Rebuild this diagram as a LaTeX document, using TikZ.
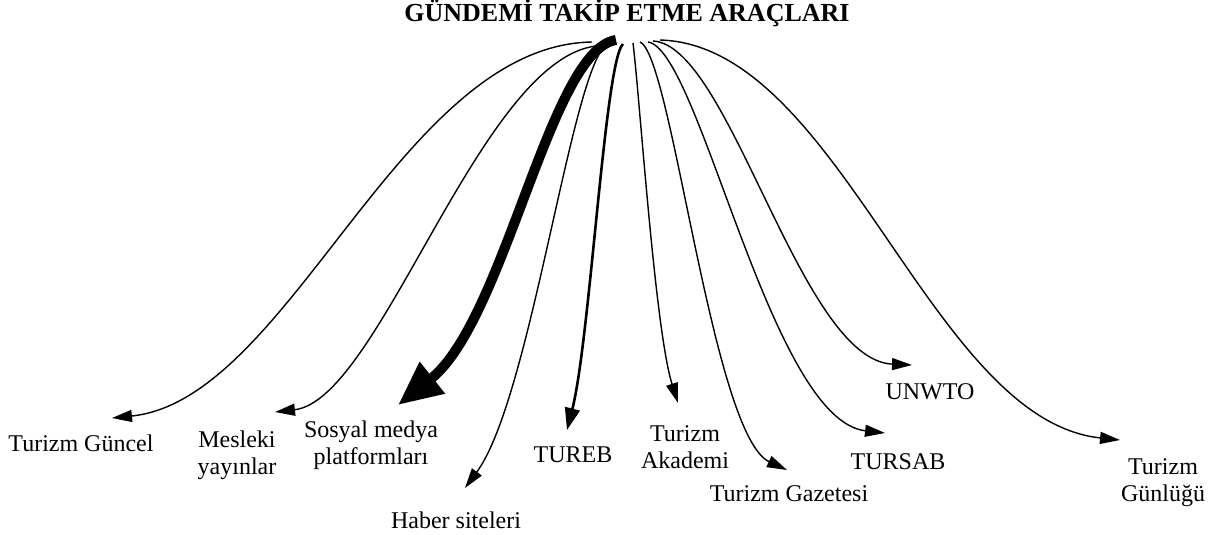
\documentclass[tikz,border=0pt]{standalone}
\usepackage{fontspec}
\setmainfont{Liberation Serif}
\usepackage{xcolor}
\usetikzlibrary{calc,arrows.meta}
\definecolor{gtink}{RGB}{0,0,0}

\begin{document}
\begin{tikzpicture}[x=0.5pt,y=-0.5pt,
    lbl/.style={text=gtink, font=\fontsize{12}{13.5}\selectfont, align=center, inner sep=0pt},
    edge/.style={gtink, -{Triangle[length=10pt,width=6pt]}, line width=0.7pt},
    boldedge/.style={gtink, -{Triangle[length=11pt,width=7.5pt]}, line width=1.3pt},
    heavyedge/.style={gtink, -{Triangle[length=22pt,width=19pt]}, line width=5pt}]
    \useasboundingbox (0,0) rectangle (1216,535);

    \node[text=gtink, font=\bfseries\fontsize{13}{14}\selectfont, inner sep=0pt] (title) at (627,13) {GÜNDEMİ TAKİP ETME ARAÇLARI};
    \coordinate (hub) at (627,42);

    \node[lbl] (guncel) at (81,443) {Turizm Güncel};
    \node[lbl] (mesleki) at (237,455) {Mesleki\\yayınlar};
    \node[lbl] (sosyal) at (371,445) {Sosyal medya\\platformları};
    \node[lbl] (haber) at (456,520) {Haber siteleri};
    \node[lbl] (tureb) at (573,455) {TUREB};
    \node[lbl] (akademi) at (685,447) {Turizm\\Akademi};
    \node[lbl] (gazetesi) at (789,494) {Turizm Gazetesi};
    \node[lbl] (tursab) at (898,462) {TURSAB};
    \node[lbl] (unwto) at (930,392) {UNWTO};
    \node[lbl] (gunlugu) at (1163,483) {Turizm\\Günlüğü};

    % left fan
    \draw[edge] ($(hub)+(-35,0)$) .. controls (400,45) and (290,400) .. ($(guncel)+(31,-25)$);
    \draw[edge] ($(hub)+(-31,4)$) .. controls (480,60) and (380,400) .. ($(mesleki)+(38,-43)$);
    \draw[heavyedge] ($(hub)+(-11,-2)$) .. controls (550,50) and (505,320) .. ($(sosyal)+(27,-40)$);
    \draw[edge] ($(hub)+(-22,4)$) .. controls (570,80) and (530,400) .. ($(haber)+(9,-32)$);
    \draw[boldedge] ($(hub)+(-4,2)$) .. controls (605,60) and (590,340) .. ($(tureb)+(-6,-25)$);

    % right fan
    \draw[edge] ($(hub)+(6,1)$) .. controls (640,100) and (655,330) .. ($(akademi)+(-7,-44)$);
    \draw[edge] ($(hub)+(13,0)$) .. controls (672,55) and (712,435) .. ($(gazetesi)+(-2,-24)$);
    \draw[edge] ($(hub)+(21,0)$) .. controls (700,50) and (770,420) .. ($(tursab)+(-13,-29)$);
    \draw[edge] ($(hub)+(26,-1)$) .. controls (730,45) and (800,360) .. ($(unwto)+(-18,-27)$);
    \draw[edge] ($(hub)+(33,-2)$) .. controls (840,45) and (930,420) .. ($(gunlugu)+(-43,-43)$);
\end{tikzpicture}
\end{document}
